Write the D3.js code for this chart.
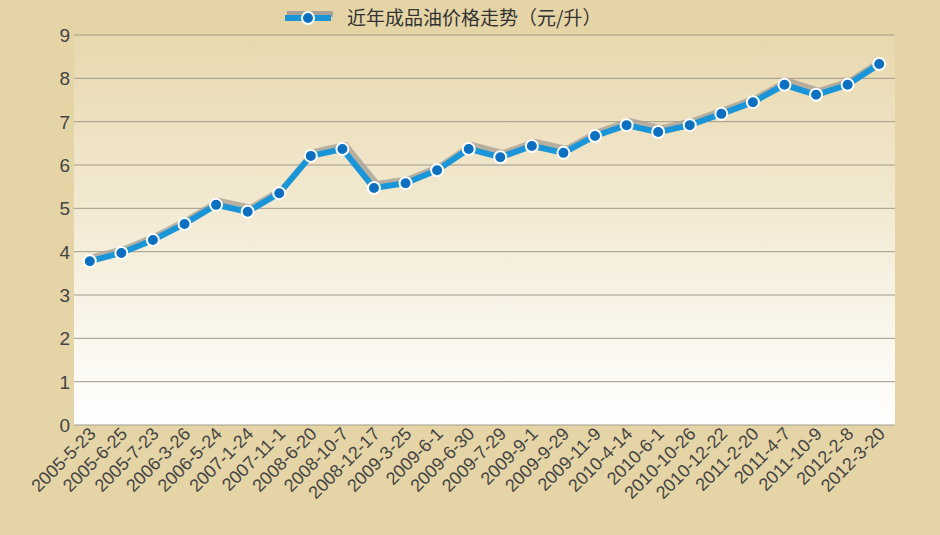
<!DOCTYPE html>
<html><head><meta charset="utf-8">
<script src="https://cdn.jsdelivr.net/npm/d3@7"></script>
<style>body{margin:0;background:#e5d4a6;}svg{display:block}</style>
</head><body><svg id="c" width="940" height="535"></svg>
<script>
const dates=["2005-5-23","2005-6-25","2005-7-23","2006-3-26","2006-5-24","2007-1-24","2007-11-1","2008-6-20","2008-10-7","2008-12-17","2009-3-25","2009-6-1","2009-6-30","2009-7-29","2009-9-1","2009-9-29","2009-11-9","2010-4-14","2010-6-1","2010-10-26","2010-12-22","2011-2-20","2011-4-7","2011-10-9","2012-2-8","2012-3-20"];
const prices=[3.78,3.97,4.27,4.64,5.08,4.92,5.35,6.21,6.37,5.47,5.58,5.88,6.37,6.18,6.44,6.28,6.67,6.92,6.76,6.92,7.18,7.45,7.85,7.62,7.85,8.33];
const yTicks=[0,1,2,3,4,5,6,7,8,9];
const seriesName="近年成品油价格走势（元/升）";

const svg=d3.select("#c");
const L=74,R=895,T=35,B=425;
const x=d3.scaleBand().domain(dates).range([L,R]);
const y=d3.scaleLinear().domain([0,9]).range([B,T]);
const defs=svg.append("defs");
const g=defs.append("linearGradient").attr("id","bg").attr("x1",0).attr("x2",0).attr("y1",0).attr("y2",1);
g.append("stop").attr("offset","0").attr("stop-color","#e8d8ae");
g.append("stop").attr("offset","1").attr("stop-color","#ffffff");
svg.append("rect").attr("x",L).attr("y",T).attr("width",R-L).attr("height",B-T).attr("fill","url(#bg)");
svg.append("g").selectAll("line").data(yTicks).join("line")
 .attr("x1",L).attr("x2",R).attr("y1",d=>y(d)).attr("y2",d=>y(d))
 .attr("stroke","#a09a8c").attr("stroke-width",1);
svg.append("g").selectAll("text").data(yTicks).join("text")
 .attr("x",L-4).attr("y",d=>y(d)+7).attr("text-anchor","end")
 .attr("font-family","Liberation Sans, Arial").attr("font-size",19).attr("fill","#444").text(d=>d);
svg.append("g").selectAll("text").data(dates).join("text")
 .attr("transform",d=>`translate(${x(d)+x.bandwidth()/2+7},${B+10}) rotate(-45)`)
 .attr("text-anchor","end").attr("font-family","Liberation Sans, Arial").attr("font-size",18).attr("fill","#444").text(d=>d);
const cx=d=>x(d)+x.bandwidth()/2;
const line=d3.line().x((d,i)=>cx(dates[i])).y(d=>y(d));
svg.append("path").datum(prices).attr("d",line).attr("transform","translate(3,-4)")
 .attr("fill","none").attr("stroke","#a8a195").attr("stroke-width",6).attr("opacity",0.8);
svg.append("path").datum(prices).attr("d",line).attr("fill","none").attr("stroke","#1a96d8").attr("stroke-width",6);
svg.append("g").selectAll("circle").data(prices).join("circle")
 .attr("cx",(d,i)=>cx(dates[i])).attr("cy",d=>y(d)).attr("r",6)
 .attr("fill","#0d6fc0").attr("stroke","#fff").attr("stroke-width",2);
const lg=svg.append("g");
lg.append("line").attr("x1",287).attr("x2",333).attr("y1",14).attr("y2",14).attr("stroke","#a8a195").attr("stroke-width",6);
lg.append("line").attr("x1",285).attr("x2",331).attr("y1",18).attr("y2",18).attr("stroke","#1a96d8").attr("stroke-width",6);
lg.append("circle").attr("cx",308).attr("cy",18).attr("r",6).attr("fill","#0d6fc0").attr("stroke","#fff").attr("stroke-width",2);
lg.append("text").attr("x",347).attr("y",25).attr("font-family","Noto Sans CJK SC").attr("font-size",19).attr("fill","#333").text(seriesName);
</script></body></html>
